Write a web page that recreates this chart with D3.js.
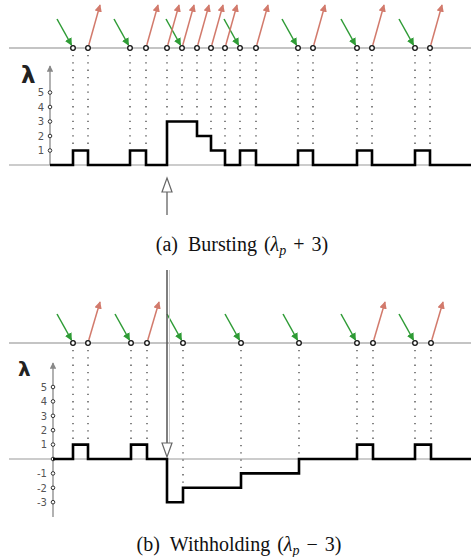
<!DOCTYPE html>
<html><head><meta charset="utf-8">
<script src="https://cdn.jsdelivr.net/npm/d3@7"></script>
<style>body{margin:0;background:#fff}svg{display:block}</style>
</head><body>
<svg id="c" width="471" height="557"></svg>
<script>
// time unit: arbitrary (0..462)
const arrivalsA   = [64,121,173,231,289,348,406];          // green arrows
const departuresA = [79,137,158,173,188,202,216,247,304,363,421]; // red arrows
const stepTimesA  = [41,64,79,121,137,158,188,202,216,231,247,289,304,348,363,406,421,462];
const stepValsA   = [0,1,0,1,0,3,2,1,0,1,0,1,0,1,0,1,0,0];
const ticksA      = [1,2,3,4,5];
const captionA    = {label:"(a)", word:"Bursting", op:"+ 3"};

const arrivalsB   = [64,122,174,232,290,348,406];
const departuresB = [79,138,364,422];
const stepTimesB  = [44,64,79,122,138,158,174,232,290,348,364,406,422,462];
const stepValsB   = [0,1,0,1,0,-3,-2,-1,0,1,0,1,0,0];
const ticksB      = [5,4,3,2,1,0,-1,-2,-3];
const tickLabelsB = ["5","4","3","2","1","","-1","-2","-3"];
const captionB    = {label:"(b)", word:"Withholding", op:"\u2212 3"};
const markTime    = 158;

const svg = d3.select("#c");
const x = d3.scaleLinear().domain([0,462]).range([9,471]);

const defs = svg.append("defs");
function marker(id, color){
  defs.append("marker").attr("id",id).attr("viewBox","0 0 10 10").attr("refX",9).attr("refY",5)
    .attr("markerWidth",5).attr("markerHeight",5).attr("orient","auto-start-reverse")
    .append("path").attr("d","M0,0L10,5L0,10z").attr("fill",color);
}
marker("mg","#2e9b35"); marker("mr","#d27a6c"); marker("ma","#888");

function panel(cfg){
  const g = svg.append("g");
  const y = d3.scaleLinear().domain(cfg.ydom).range(cfg.yrange);
  const tl = cfg.timeline;
  g.append("line").attr("x1",9).attr("x2",471).attr("y1",tl).attr("y2",tl)
    .attr("stroke","#8a8a8a").attr("stroke-width",1.2);
  g.append("line").attr("x1",9).attr("x2",471).attr("y1",y(0)).attr("y2",y(0))
    .attr("stroke","#999").attr("stroke-width",1);
  const valAt = (t, side) => {
    let v = cfg.vals[0];
    for (let i=0;i<cfg.times.length;i++){
      if (side==="before" ? cfg.times[i] < t : cfg.times[i] <= t) v = cfg.vals[i];
    }
    return v;
  };
  const evs = Array.from(new Set(cfg.arr.concat(cfg.dep))).sort((a,b)=>a-b);
  g.selectAll(".dl").data(evs).join("line")
    .attr("x1",d=>x(d)).attr("x2",d=>x(d)).attr("y1",tl+7)
    .attr("y2",d=>y(Math.max(valAt(d,"before"),valAt(d,"after")))-3)
    .attr("stroke","#444").attr("stroke-width",1.3).attr("stroke-dasharray","1.3 6");
  g.append("line").attr("x1",cfg.ax).attr("x2",cfg.ax).attr("y1",cfg.axBottom).attr("y2",cfg.axTop)
    .attr("stroke","#888").attr("stroke-width",1.3).attr("marker-end","url(#ma)");
  g.selectAll(".tc").data(cfg.ticks).join("circle")
    .attr("cx",cfg.ax).attr("cy",d=>y(d)).attr("r",1.8)
    .attr("fill","#fff").attr("stroke","#333").attr("stroke-width",1);
  g.selectAll(".tl").data(cfg.ticks).join("text")
    .attr("x",cfg.ax-6).attr("y",d=>y(d)+3.8).attr("text-anchor","end")
    .attr("font-family","DejaVu Sans, sans-serif").attr("font-size",10).attr("fill","#555")
    .text((d,i)=>cfg.tickLabels[i]);
  g.append("text").attr("x",cfg.lamX).attr("y",cfg.lamY).attr("font-family","DejaVu Sans, sans-serif")
    .attr("font-weight","bold").attr("font-size",cfg.lamSize).attr("fill","#222").text("\u03bb");
  const line = d3.line().x(d=>x(d[0])).y(d=>y(d[1])).curve(d3.curveStepAfter);
  g.append("path").datum(cfg.times.map((t,i)=>[t,cfg.vals[i]]))
    .attr("d",line).attr("fill","none").attr("stroke","#000").attr("stroke-width",2.6);
  g.selectAll(".ga").data(cfg.arr).join("line")
    .attr("x1",d=>x(d)-16).attr("y1",tl-29).attr("x2",d=>x(d)-1.5).attr("y2",tl-3)
    .attr("stroke","#2e9b35").attr("stroke-width",1.5).attr("marker-end","url(#mg)");
  g.selectAll(".ra").data(cfg.dep).join("line")
    .attr("x1",d=>x(d)+0.8).attr("y1",tl-3).attr("x2",d=>x(d)+12).attr("y2",tl-cfg.redLen)
    .attr("stroke","#d27a6c").attr("stroke-width",1.5).attr("marker-end","url(#mr)");
  g.selectAll(".ec").data(evs).join("circle")
    .attr("cx",d=>x(d)).attr("cy",tl).attr("r",2.3)
    .attr("fill","#fff").attr("stroke","#111").attr("stroke-width",1.3);
  const t = g.append("text").attr("x",cfg.capX).attr("y",cfg.capY).attr("text-anchor","middle")
    .attr("font-family","Liberation Serif, Times New Roman, serif").attr("font-size",20)
    .attr("word-spacing",2).attr("fill","#111");
  t.append("tspan").text(cfg.cap.label+"\u2002"+cfg.cap.word+" (");
  t.append("tspan").attr("font-style","italic").text("\u03bb");
  t.append("tspan").attr("font-style","italic").attr("font-size",14).attr("dy",4).text("p");
  t.append("tspan").attr("dy",-4).text(" "+cfg.cap.op+")");
  return {g,y};
}

panel({times:stepTimesA, vals:stepValsA, arr:arrivalsA, dep:departuresA,
  ydom:[0,5], yrange:[165,92.5], timeline:48, ax:50, axTop:66, axBottom:165,
  ticks:ticksA, tickLabels:ticksA.map(String), lamX:21, lamY:83, lamSize:23, redLen:43,
  cap:captionA, capX:242, capY:251});
panel({times:stepTimesB, vals:stepValsB, arr:arrivalsB, dep:departuresB,
  ydom:[-3,5], yrange:[502.2,387], timeline:343, ax:53, axTop:363, axBottom:517,
  ticks:ticksB, tickLabels:tickLabelsB, lamX:18, lamY:376, lamSize:20, redLen:41,
  cap:captionB, capX:239, capY:551});

const mx = x(markTime);
svg.append("line").attr("x1",mx).attr("x2",mx).attr("y1",192).attr("y2",215).attr("stroke","#777").attr("stroke-width",1.5);
svg.append("path").attr("d",`M${mx},178L${mx+5},192L${mx-5},192Z`).attr("fill","#fff").attr("stroke","#666").attr("stroke-width",1.2);
svg.append("line").attr("x1",mx).attr("x2",mx).attr("y1",270).attr("y2",443).attr("stroke","#555").attr("stroke-width",1.5);
svg.append("line").attr("x1",mx+2.5).attr("x2",mx+2.5).attr("y1",270).attr("y2",443).attr("stroke","#ccc").attr("stroke-width",1);
svg.append("path").attr("d",`M${mx-5},443L${mx+5},443L${mx},457Z`).attr("fill","#fff").attr("stroke","#666").attr("stroke-width",1.2);
</script>
</body></html>
